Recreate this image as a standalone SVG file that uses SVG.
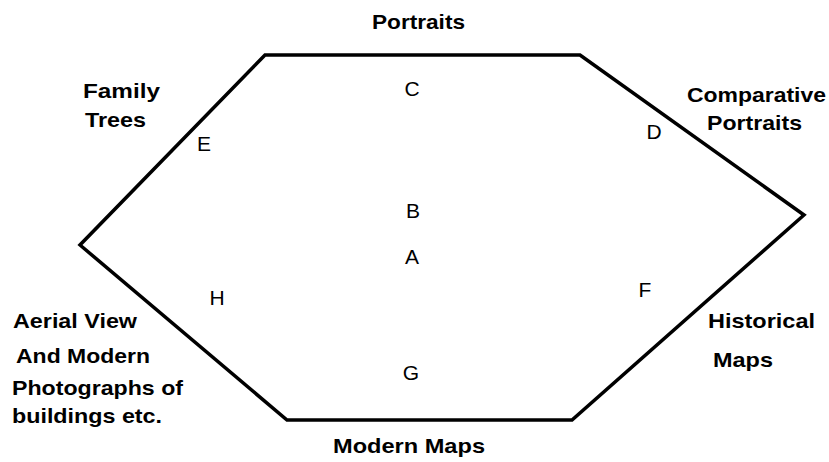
<svg xmlns="http://www.w3.org/2000/svg" width="829" height="462" viewBox="0 0 829 462">
<style>
.edge{fill:none;stroke:#000;stroke-width:3.5;stroke-linejoin:miter}
.lbl{font-family:"Liberation Sans",Arial,sans-serif;font-weight:bold;font-size:21px;fill:#000}
.pt{font-family:"Liberation Sans",Arial,sans-serif;font-size:21px;fill:#000;text-anchor:middle}
</style>
<rect width="829" height="462" fill="#fff"/>
<g id="connectors">
<polygon class="edge" points="265,55 580,55 804,215 572,420 287,420 80,245"/>
</g>
<g id="portraits"><text class="lbl" x="372" y="29" textLength="93" lengthAdjust="spacingAndGlyphs">Portraits</text></g>
<g id="family-trees">
<text class="lbl" x="83" y="98" textLength="77" lengthAdjust="spacingAndGlyphs">Family</text>
<text class="lbl" x="85" y="127" textLength="61" lengthAdjust="spacingAndGlyphs">Trees</text>
</g>
<g id="comparative-portraits">
<text class="lbl" x="687" y="102" textLength="139" lengthAdjust="spacingAndGlyphs">Comparative</text>
<text class="lbl" x="707" y="130" textLength="95" lengthAdjust="spacingAndGlyphs">Portraits</text>
</g>
<g id="historical-maps">
<text class="lbl" x="708" y="328" textLength="107" lengthAdjust="spacingAndGlyphs">Historical</text>
<text class="lbl" x="713" y="367" textLength="60" lengthAdjust="spacingAndGlyphs">Maps</text>
</g>
<g id="modern-maps"><text class="lbl" x="333" y="453" textLength="152" lengthAdjust="spacingAndGlyphs">Modern Maps</text></g>
<g id="aerial-view">
<text class="lbl" x="13" y="328" textLength="124" lengthAdjust="spacingAndGlyphs">Aerial View</text>
<text class="lbl" x="16" y="363" textLength="134" lengthAdjust="spacingAndGlyphs">And Modern</text>
<text class="lbl" x="12" y="395" textLength="171" lengthAdjust="spacingAndGlyphs">Photographs of</text>
<text class="lbl" x="12" y="423" textLength="150" lengthAdjust="spacingAndGlyphs">buildings etc.</text>
</g>
<g id="point-A"><text class="pt" x="412" y="264">A</text></g>
<g id="point-B"><text class="pt" x="413" y="218">B</text></g>
<g id="point-C"><text class="pt" x="412" y="96">C</text></g>
<g id="point-D"><text class="pt" x="654" y="139">D</text></g>
<g id="point-E"><text class="pt" x="204" y="151">E</text></g>
<g id="point-F"><text class="pt" x="645" y="297">F</text></g>
<g id="point-G"><text class="pt" x="411" y="380">G</text></g>
<g id="point-H"><text class="pt" x="217" y="305">H</text></g>
</svg>
